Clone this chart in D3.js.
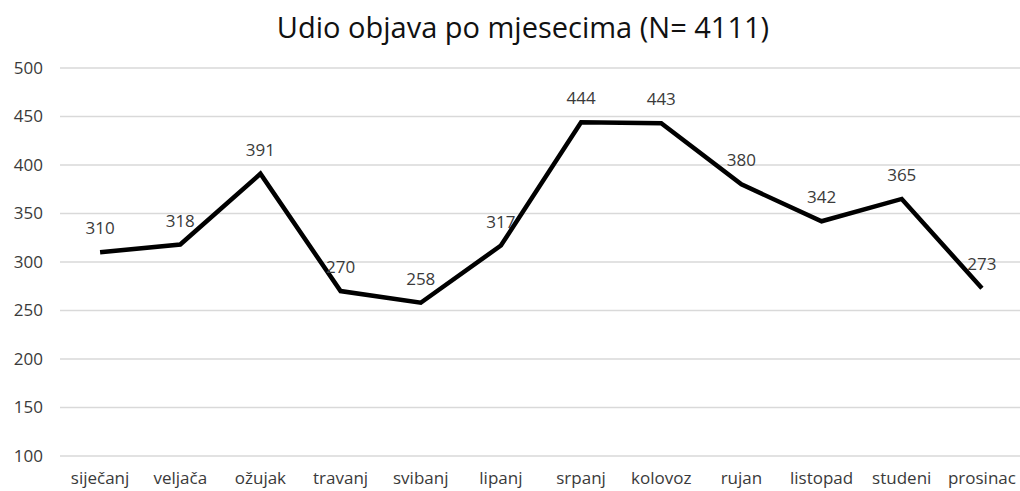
<!DOCTYPE html>
<html>
<head>
<meta charset="utf-8">
<script src="https://cdn.jsdelivr.net/npm/d3@7"></script>
<style>
  body { margin: 0; background: #fff; }
  text { font-family: "Open Sans", "Noto Sans", sans-serif; fill: #3a3a3a; }
</style>
</head>
<body>
<div id="chart"></div>
<script>
// data
var months = ["siječanj", "veljača", "ožujak", "travanj", "svibanj", "lipanj",
              "srpanj", "kolovoz", "rujan", "listopad", "studeni", "prosinac"];
var counts = [310, 318, 391, 270, 258, 317, 444, 443, 380, 342, 365, 273];
var yTicks = [100, 150, 200, 250, 300, 350, 400, 450, 500];

var width = 1020, height = 491;
var margin = { top: 68, right: -2, bottom: 35, left: 60 };

var svg = d3.select("#chart").append("svg")
    .attr("width", width)
    .attr("height", height);

// title
svg.append("text")
    .attr("x", 523)
    .attr("y", 38)
    .attr("text-anchor", "middle")
    .style("font-size", "29px")
    .style("fill", "#111")
    .text("Udio objava po mjesecima (N= 4111)");

var x = d3.scaleBand()
    .domain(months)
    .range([margin.left, width - margin.right]);

var y = d3.scaleLinear()
    .domain([100, 500])
    .range([height - margin.bottom, margin.top]);

// gridlines
svg.append("g")
    .selectAll("line")
    .data(yTicks)
    .enter()
    .append("line")
    .attr("x1", margin.left)
    .attr("x2", width - margin.right)
    .attr("y1", d => y(d))
    .attr("y2", d => y(d))
    .attr("stroke", "#d9d9d9")
    .attr("stroke-width", 1.5);

// y axis labels
svg.append("g")
    .selectAll("text")
    .data(yTicks)
    .enter()
    .append("text")
    .attr("x", 43)
    .attr("y", d => y(d))
    .attr("dy", "0.35em")
    .attr("text-anchor", "end")
    .style("font-size", "17px")
    .text(d => d);

// x axis labels
svg.append("g")
    .selectAll("text")
    .data(months)
    .enter()
    .append("text")
    .attr("x", d => x(d) + x.bandwidth() / 2)
    .attr("y", 484)
    .attr("text-anchor", "middle")
    .style("font-size", "17px")
    .text(d => d);

var line = d3.line()
    .x((d, i) => x(months[i]) + x.bandwidth() / 2)
    .y(d => y(d));

svg.append("path")
    .datum(counts)
    .attr("d", line)
    .attr("fill", "none")
    .attr("stroke", "#000")
    .attr("stroke-width", 4.5)
    .attr("stroke-linejoin", "miter");

// data labels
svg.append("g")
    .selectAll("text")
    .data(counts)
    .enter()
    .append("text")
    .attr("x", (d, i) => x(months[i]) + x.bandwidth() / 2)
    .attr("y", d => y(d) - 18)
    .attr("text-anchor", "middle")
    .style("font-size", "17px")
    .text(d => d);
</script>
</body>
</html>
